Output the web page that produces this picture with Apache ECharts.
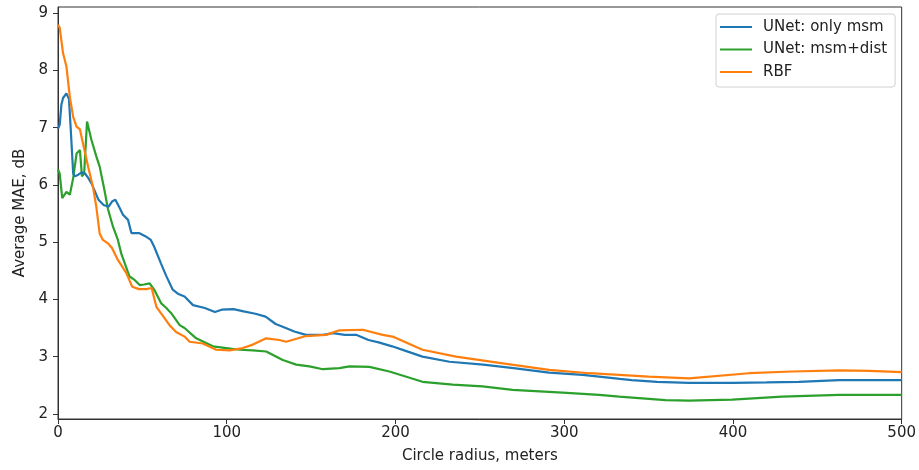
<!DOCTYPE html>
<html>
<head>
<meta charset="utf-8">
<script src="https://cdn.jsdelivr.net/npm/echarts@6/dist/echarts.min.js"></script>
<style>html,body{margin:0;padding:0;background:#fff;}#chart{width:919px;height:470px;}</style>
</head>
<body>
<div id="chart"></div>
<script>
const seriesNames = ['UNet: only msm', 'UNet: msm+dist', 'RBF'];
const xTicks = [0, 100, 200, 300, 400, 500];
const yTicks = [2, 3, 4, 5, 6, 7, 8, 9];

const xOnlyMsm = [0,1,2,3,5,6.5,7.5,9,10,12,14,16,18,20,21,24,27,30,32,34,36.5,38.5,41.5,43.5,48,52,55,57,61,64,68,71,75,80,87,93,97,104,110,117,123,129,135,140,147,157,163,170,177,184,190,198,206,216,232,252,270,291,311,333,340,355,374,400,420,439,463,480,500];
const yOnlyMsm = [6.98,7.05,7.4,7.52,7.6,7.5,7.0,6.2,6.15,6.18,6.22,6.2,6.12,6.02,6.0,5.74,5.65,5.62,5.71,5.74,5.6,5.48,5.39,5.16,5.16,5.1,5.04,4.92,4.63,4.42,4.17,4.1,4.05,3.9,3.85,3.78,3.82,3.83,3.79,3.75,3.7,3.57,3.5,3.44,3.38,3.38,3.41,3.38,3.38,3.29,3.25,3.18,3.1,3.0,2.91,2.86,2.8,2.72,2.68,2.61,2.59,2.56,2.54,2.54,2.55,2.56,2.59,2.59,2.59];

const xMsmDist = [0,1,2.5,5,7,9,11,13,14.2,15.5,17.2,19.8,22.7,24.7,27.6,29.6,32.6,35.5,37.5,42.4,45.4,48.4,51,54.3,57.2,61.2,64.2,67.1,72.1,75,81.9,91.8,99.7,107.6,115.5,123.4,133.2,141.2,149,157,166.8,172.7,184.5,196.4,216,233.9,251.6,269.4,299,320.7,332.6,360,374,399.6,429,463,500];
const yMsmDist = [6.27,6.2,5.77,5.88,5.83,6.12,6.55,6.61,6.15,6.2,7.11,6.79,6.5,6.32,5.9,5.58,5.27,5.04,4.8,4.4,4.34,4.25,4.26,4.28,4.16,3.93,3.85,3.76,3.55,3.5,3.32,3.18,3.15,3.12,3.11,3.09,2.94,2.86,2.83,2.78,2.8,2.83,2.82,2.74,2.56,2.51,2.48,2.42,2.37,2.33,2.3,2.24,2.23,2.25,2.3,2.33,2.33];

const xRbf = [0,1,3,5,7,9,11,13,15,18,20.7,22.7,24.7,26.6,29.6,32,35.5,40.5,44,48,52.3,55.5,58.3,61.2,66.1,70,75,78,85.8,93.8,101.7,109.5,115.5,123.4,131.2,135.2,147,158.9,166.8,180.6,192.4,198.3,216,235.9,261.5,291,314.8,332.6,350,374,409.4,435,463,481,500];
const yRbf = [8.8,8.75,8.3,8.07,7.54,7.19,7.02,6.97,6.7,6.3,5.97,5.62,5.15,5.04,4.98,4.9,4.69,4.46,4.22,4.18,4.18,4.2,3.87,3.75,3.55,3.43,3.35,3.26,3.23,3.12,3.11,3.15,3.21,3.32,3.29,3.26,3.36,3.38,3.46,3.47,3.38,3.35,3.12,3.0,2.89,2.77,2.71,2.68,2.65,2.62,2.71,2.74,2.76,2.75,2.73];

const colors = ['#1f77b4', '#2ca02c', '#ff7f0e'];
const zip = (xs, ys) => xs.map((x, i) => [x, ys[i]]);
const dataSets = [zip(xOnlyMsm, yOnlyMsm), zip(xMsmDist, yMsmDist), zip(xRbf, yRbf)];

const font = 'DejaVu Sans';
const fs = 15;
const chart = echarts.init(document.getElementById('chart'), null, {renderer: 'canvas'});
chart.setOption({
  animation: false,
  backgroundColor: '#fff',
  grid: {left: 58, right: 16, top: 7, bottom: 51, show: true, borderColor: '#333', borderWidth: 1, backgroundColor: 'transparent'},
  legend: {
    orient: 'vertical',
    left: 716, top: 14,
    data: seriesNames,
    icon: 'rect',
    itemWidth: 32, itemHeight: 2,
    itemGap: 6.5,
    padding: [5, 8, 7, 4],
    borderColor: '#d0d0d0', borderWidth: 1, borderRadius: 3,
    backgroundColor: '#fff',
    textStyle: {fontFamily: font, fontSize: fs, color: '#222', lineHeight: 16, padding: [0, 0, 0, 6]}
  },
  xAxis: {
    type: 'value', min: 0, max: 500, interval: 100,
    name: 'Circle radius, meters', nameLocation: 'middle', nameGap: 30,
    nameTextStyle: {fontFamily: font, fontSize: fs, color: '#222'},
    axisLine: {show: true, lineStyle: {color: '#333'}},
    axisTick: {show: true, length: 5, lineStyle: {color: '#333'}},
    axisLabel: {fontFamily: font, fontSize: fs, color: '#222', margin: 7, formatter: v => xTicks.includes(v) ? String(v) : ''},
    splitLine: {show: false}
  },
  yAxis: {
    type: 'value', min: 1.91, max: 9.11,
    name: 'Average MAE, dB', nameLocation: 'middle', nameGap: 30,
    nameTextStyle: {fontFamily: font, fontSize: fs, color: '#222'},
    axisLine: {show: true, lineStyle: {color: '#333'}},
    axisTick: {show: true, length: 5, lineStyle: {color: '#333'}, customValues: yTicks},
    axisLabel: {fontFamily: font, fontSize: fs, color: '#222', margin: 10, customValues: yTicks},
    splitLine: {show: false}
  },
  series: seriesNames.map((n, i) => ({
    name: n, type: 'line', data: dataSets[i],
    showSymbol: false, symbol: 'none',
    lineStyle: {width: 2.2, color: colors[i]},
    itemStyle: {color: colors[i]},
    z: i === 2 ? 4 : 3 - i
  }))
});
</script>
</body>
</html>
